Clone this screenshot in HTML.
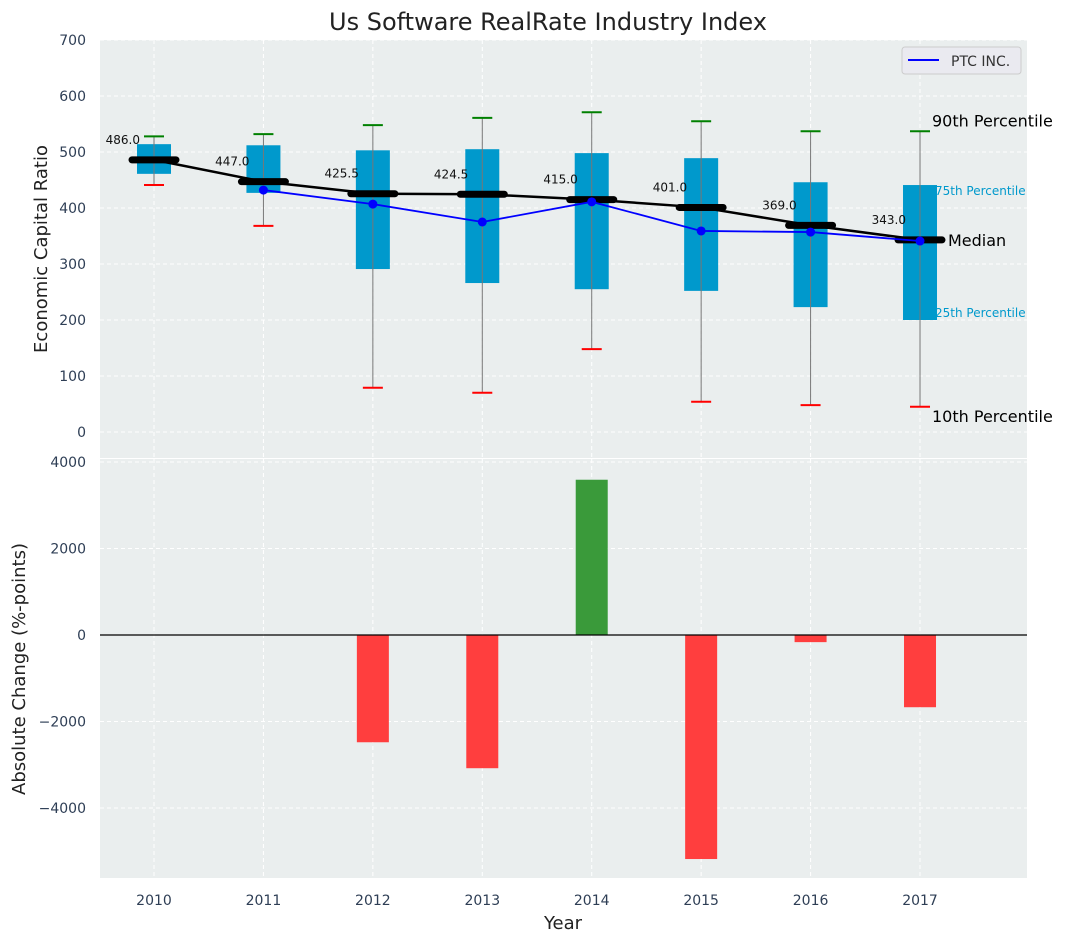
<!DOCTYPE html>
<html><head><meta charset="utf-8"><style>
body{margin:0;background:#fff;}
svg{display:block;font-family:"DejaVu Sans","Liberation Sans",sans-serif;}
</style></head><body>
<svg id="c" width="1067" height="942" viewBox="0 0 1067 942">
<text x="548" y="30" font-size="24" text-anchor="middle" fill="#222">Us Software RealRate Industry Index</text>
<rect x="100" y="40" width="927" height="418" fill="#eaeeee"/>
<rect x="100" y="459" width="927" height="419" fill="#eaeeee"/>
<g id="g"></g>
<text transform="translate(47,249) rotate(-90)" font-size="18" text-anchor="middle" fill="#222">Economic Capital Ratio</text>
<text transform="translate(25,669) rotate(-90)" font-size="18" text-anchor="middle" fill="#222">Absolute Change (%-points)</text>
<text x="563" y="929" font-size="18" text-anchor="middle" fill="#222">Year</text>
<g>
<rect x="902" y="47" width="119" height="27" rx="3" fill="#eaeaf0" stroke="#ccc"/>
<line x1="908" y1="60" x2="939" y2="60" stroke="#0000ff" stroke-width="2"/>
<text x="951" y="66" font-size="14" fill="#333">PTC INC.</text>
</g>
</svg>
<script>
const years=["2010","2011","2012","2013","2014","2015","2016","2017"];
const p10=[441,368,79,70,148,54,48,45];
const p25=[461,427,291,266,255,252,223,200];
const medians=[486,447,425.5,424.5,415,401,369,343];
const p75=[514,512,503,505,498,489,446,441];
const p90=[528,532,548,561,571,555,537,537];
const ptc=[null,432,407,375,411,359,357,341];
const changes=[0,0,-2480,-3080,3590,-5180,-165,-1670];
const topTicks=[0,100,200,300,400,500,600,700];
const botTicks=[-4000,-2000,0,2000,4000];
const NS="http://www.w3.org/2000/svg";
const g=document.getElementById('g');
const X=i=>154+i*109.43;
const Y1=v=>432-v*0.56;
const Y2=v=>635-v*0.04325;
function mk(t,a,p){const e=document.createElementNS(NS,t);for(const k in a)e.setAttribute(k,a[k]);(p||g).appendChild(e);return e;}
topTicks.forEach(v=>{
 const l=mk('line',{x1:100,x2:1027,y1:Y1(v),y2:Y1(v),stroke:'#fff','stroke-dasharray':'4,3','stroke-width':1});
 
 
 const t=mk('text',{x:86,y:Y1(v)+5,'font-size':14,fill:'#2e3e55','text-anchor':'end'});t.textContent=v;
 
 
});
botTicks.forEach(v=>{
 const l=mk('line',{x1:100,x2:1027,y1:Y2(v),y2:Y2(v),stroke:'#fff','stroke-dasharray':'4,3','stroke-width':1});
 
 
 const t=mk('text',{x:86,y:Y2(v)+5,'font-size':14,fill:'#2e3e55','text-anchor':'end'});t.textContent=v<0?'\u2212'+(-v):v;
 
 
});
years.forEach((y,i)=>{
 [[40,458],[459,878]].forEach(r=>{const l=mk('line',{x1:X(i),x2:X(i),y1:r[0],y2:r[1],stroke:'#fff','stroke-dasharray':'4,3'});
 
 });
 const t=mk('text',{x:X(i),y:905,'font-size':14,fill:'#2e3e55','text-anchor':'middle'});t.textContent=y;
 
 
});
years.forEach((y,i)=>{
 const x=X(i);
 const b=mk('rect',{x:x-17,y:Y1(p75[i]),width:34,height:Y1(p25[i])-Y1(p75[i]),fill:'#0099cc'});
 
 
 const w=mk('line',{x1:x,x2:x,y1:Y1(p90[i]),y2:Y1(p10[i]),stroke:'#777','stroke-width':1});
 
 
 const c1=mk('line',{x1:x-10,x2:x+10,y1:Y1(p90[i]),y2:Y1(p90[i]),stroke:'green','stroke-width':2});
 
 
 const c2=mk('line',{x1:x-10,x2:x+10,y1:Y1(p10[i]),y2:Y1(p10[i]),stroke:'red','stroke-width':2});
 
 
});
const mp=mk('polyline',{points:medians.map((v,i)=>X(i)+','+Y1(v)).join(' '),fill:'none',stroke:'#000','stroke-width':2.5});


medians.forEach((v,i)=>{
 const m=mk('line',{x1:X(i)-22,x2:X(i)+22,y1:Y1(v),y2:Y1(v),stroke:'#000','stroke-width':7,'stroke-linecap':'round'});
 
 
 const t=mk('text',{x:X(i)-14,y:Y1(v)-16,'font-size':12,fill:'#111','text-anchor':'end'});t.textContent=v.toFixed(1);
 
 
});
const pts=ptc.map((v,i)=>v==null?null:[X(i),Y1(v)]).filter(p=>p);
const pl=mk('polyline',{points:pts.map(p=>p.join(',')).join(' '),fill:'none',stroke:'#0000ff','stroke-width':1.8});


pts.forEach(p=>{const c=mk('circle',{cx:p[0],cy:p[1],r:4.5,fill:'#0000ff'});
 
 });
const L=7,ax=X(L)+12;
[[ '90th Percentile',Y1(p90[L])-5,16,'#000'],['75th Percentile',Y1(p75[L])+10,12,'#0099cc'],['Median',Y1(medians[L])+6,16,'#000'],['25th Percentile',Y1(p25[L])-3,12,'#0099cc'],['10th Percentile',Y1(p10[L])+15,16,'#000']].forEach((a,k)=>{
 const t=mk('text',{x:a[0]=='Median'?ax+16:(a[2]==12?ax+3:ax),y:a[1],'font-size':a[2],fill:a[3]});t.textContent=a[0];
 
 
});
changes.forEach((v,i)=>{
 if(v===0)return;
 const y0=Math.min(Y2(0),Y2(v)),h=Math.abs(Y2(v)-Y2(0));
 const r=mk('rect',{x:X(i)-16,y:y0,width:32,height:h,fill:v>0?'#3a9a3a':'#ff3e3e'});
 
 
});
const z=mk('line',{x1:100,x2:1027,y1:Y2(0),y2:Y2(0),stroke:'#000','stroke-width':1.2});


</script>
</body></html>
